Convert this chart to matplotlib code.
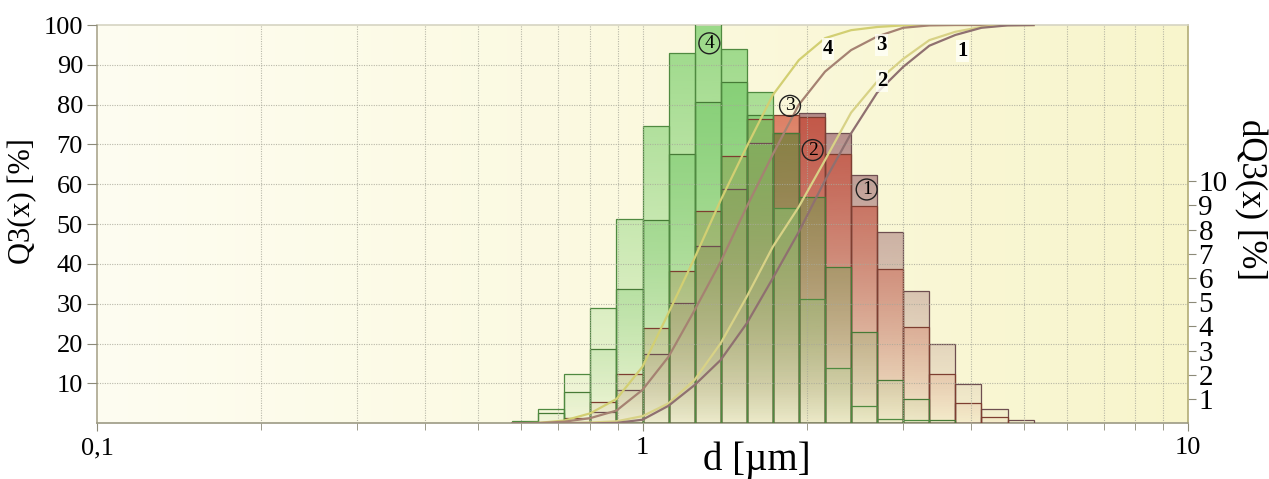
import numpy as np
import matplotlib
matplotlib.use('Agg')
import matplotlib.pyplot as plt
from matplotlib.path import Path
from matplotlib.patches import PathPatch
from matplotlib.ticker import FixedLocator, FixedFormatter, NullFormatter
from matplotlib.colors import to_rgb

plt.rcParams['font.family'] = ['Liberation Serif', 'DejaVu Serif']

# ---------------- data ----------------
bin_edges = [0.577, 0.644, 0.719, 0.802, 0.896, 1.0, 1.116, 1.246, 1.391, 1.553,
             1.733, 1.935, 2.161, 2.412, 2.692, 3.006, 3.356, 3.746, 4.181, 4.668, 5.212]

# dQ3 [%] per class (right axis)
dq3_s4 = [0.10, 0.61, 2.04, 4.75, 8.43, 12.28, 15.28, 17.00, 15.45, 13.69,
          8.91, 5.14, 2.27, 0.71, 0.16, 0.13, 0, 0, 0, 0]
dq3_s3 = [0.05, 0.41, 1.30, 3.06, 5.54, 8.40, 11.14, 13.28, 14.10, 12.74,
          11.98, 9.35, 6.46, 3.78, 1.79, 1.00, 0.13, 0, 0, 0]
dq3_s2 = [0, 0.05, 0.20, 0.87, 2.02, 3.93, 6.29, 8.78, 11.04, 12.57,
          12.74, 12.65, 11.14, 8.96, 6.39, 3.99, 2.04, 0.85, 0.25, 0]
dq3_s1 = [0, 0, 0.05, 0.48, 1.38, 2.88, 4.96, 7.33, 9.66, 11.57,
          11.98, 12.80, 11.98, 10.25, 7.90, 5.47, 3.27, 1.61, 0.59, 0.13]

# Q3 [%] at class edges (left axis)
q3_c4 = [0, 0.1, 0.7, 2.5, 6.1, 14.2, 27.7, 41.5, 56.0, 69.5, 82.4,
         91.2, 96.7, 98.7, 99.5, 99.9, 100, 100, 100, 100, 100]
q3_c3 = [0, 0.05, 0.4, 1.3, 3.2, 8.4, 16.7, 28.4, 40.6, 54.4, 67.5,
         80.0, 88.3, 93.7, 97.1, 99.3, 99.9, 100, 100, 100, 100]
q3_c2 = [0, 0, 0, 0.2, 0.5, 1.8, 5.0, 10.9, 20.1, 31.8, 44.3,
         54.4, 66.1, 78.0, 85.8, 91.5, 96.2, 98.3, 99.5, 100, 100]
q3_c1 = [0, 0, 0, 0, 0.1, 0.9, 4.4, 9.6, 15.9, 25.1, 36.4,
         48.1, 61.0, 72.8, 83.0, 89.5, 94.8, 97.5, 99.3, 99.9, 100]

x_major = [0.1, 1, 10]
x_major_labels = ['0,1', '1', '10']
x_minor = [0.2, 0.3, 0.4, 0.5, 0.6, 0.7, 0.8, 0.9, 2, 3, 4, 5, 6, 7, 8, 9]
q_ticks = [10, 20, 30, 40, 50, 60, 70, 80, 90, 100]
dq_ticks = [1, 2, 3, 4, 5, 6, 7, 8, 9, 10]

curve_labels = [('4', 2.19, 93.9), ('3', 2.74, 95.0), ('2', 2.75, 86.0), ('1', 3.86, 93.5)]
circle_labels = [('4', 1.326, 95.4), ('3', 1.864, 79.7), ('2', 2.051, 68.6), ('1', 2.576, 58.7)]

# ---------------- figure ----------------
W, H = 1269, 479
fig = plt.figure(figsize=(W / 100, H / 100), dpi=100)
L, R, T, B = 97, 1188, 25, 423.3
pos = [L / W, 1 - B / H, (R - L) / W, (B - T) / H]

# background gradient (cream -> light yellow)
bg = fig.add_axes(pos, zorder=-1)
g = np.linspace(0, 1, 256)
c_left = np.array(to_rgb('#fefdf1'))
c_right = np.array(to_rgb('#f8f5cc'))
img = c_left[None, None, :] * (1 - g[None, :, None]) + c_right[None, None, :] * g[None, :, None]
bg.imshow(img, aspect='auto', extent=(0, 1, 0, 1), interpolation='bilinear')
bg.set_axis_off()

ax = fig.add_axes(pos)
ax.patch.set_visible(False)
ax.set_xscale('log')

DQ_TOP = 16.45
# drawn coarse -> fine so the green series lie on top
series = [
    (dq3_s1, '#8c4c5c', '#6e4e50', 0.80),
    (dq3_s2, '#cc3a22', '#7e3e30', 0.80),
    (dq3_s3, '#3fae3c', '#467a36', 0.60),
    (dq3_s4, '#7fd070', '#4f8a40', 0.78),
]
N = 256
vv = np.linspace(0, 1, N)
for vals, col, ecol, amax in series:
    verts, codes = [], []
    for i, h in enumerate(vals):
        if h <= 0:
            continue
        x0, x1 = bin_edges[i], bin_edges[i + 1]
        verts += [(x0, 0), (x0, h), (x1, h), (x1, 0), (x0, 0)]
        codes += [Path.MOVETO, Path.LINETO, Path.LINETO, Path.LINETO, Path.CLOSEPOLY]
    path = Path(verts, codes)
    patch = PathPatch(path, facecolor='none', edgecolor=ecol, lw=0.9, zorder=3)
    ax.add_patch(patch)
    rgba = np.zeros((N, 1, 4))
    rgba[..., :3] = to_rgb(col)
    rgba[:, 0, 3] = 0.03 + (amax - 0.03) * vv ** 0.95
    im = ax.imshow(rgba, origin='lower', extent=(0.1, 10, 0, DQ_TOP), aspect='auto',
                   interpolation='bilinear', zorder=2)
    im.set_clip_path(patch)

ax.set_xlim(0.1, 10)
ax.set_ylim(0, DQ_TOP)

axQ = ax.twinx()
axQ.set_ylim(0, 100)
axQ.set_xlim(0.1, 10)

# grid
for xv in x_minor + [1]:
    axQ.axvline(xv, color='#a8a89a', lw=0.8, ls=(0, (1, 1.2)), zorder=1, alpha=0.8)
for qv in q_ticks[:-1]:
    axQ.axhline(qv, color='#a8a89a', lw=0.8, ls=(0, (1, 1.2)), zorder=1, alpha=0.8)

curves = [
    (q3_c4, '#d2cf72'),
    (q3_c3, '#a58272'),
    (q3_c2, '#d8d286'),
    (q3_c1, '#8f7070'),
]
for vals, col in curves:
    axQ.plot(bin_edges, vals, color=col, lw=1.6, zorder=2, solid_joinstyle='round')

for txt, xv, qv in curve_labels:
    axQ.text(xv, qv, txt, fontsize=15, fontweight='bold', ha='center', va='center', zorder=6,
             bbox=dict(boxstyle='square,pad=0.05', fc='#fffff8', ec='none', alpha=0.8))
for txt, xv, qv in circle_labels:
    axQ.text(xv, qv, txt, fontsize=14, ha='center', va='center', zorder=6,
             bbox=dict(boxstyle='circle,pad=0.1', fc='none', ec='#202020', lw=1.0))

# ticks / axes
ax.xaxis.set_major_locator(FixedLocator(x_major))
ax.xaxis.set_major_formatter(FixedFormatter(x_major_labels))
ax.xaxis.set_minor_locator(FixedLocator(x_minor))
ax.xaxis.set_minor_formatter(NullFormatter())
ax.tick_params(axis='x', which='major', labelsize=19, length=6, pad=4, color='#8c8a78', direction='out')
ax.tick_params(axis='x', which='minor', length=5, color='#8c8a78', direction='out')

ax.yaxis.tick_right()
ax.yaxis.set_major_locator(FixedLocator(dq_ticks))
ax.tick_params(axis='y', which='major', labelsize=21, length=6, pad=1.5, color='#8c8a78',
               right=True, left=False, labelright=True, labelleft=False)
ax.yaxis.set_minor_locator(FixedLocator([]))

axQ.yaxis.tick_left()
axQ.yaxis.set_major_locator(FixedLocator(q_ticks))
axQ.tick_params(axis='y', which='major', labelsize=19, length=7, pad=3, color='#8c8a78',
                left=True, right=False, labelleft=True, labelright=False)

for s in axQ.spines.values():
    s.set_visible(False)
ax.spines['left'].set_color('#aaa68e')
ax.spines['bottom'].set_color('#9c9a84')
ax.spines['right'].set_color('#b2ac76')
ax.spines['top'].set_color('#d6d4c2')
for s in ax.spines.values():
    s.set_linewidth(1.2)

fig.text(23 / W, 1 - 201 / H, 'Q3(x) [%]', fontsize=22, rotation=90, ha='center', va='center')
fig.text(1250 / W, 1 - 200 / H, 'dQ3(x) [%]', fontsize=25, rotation=-90, ha='center', va='center')
fig.text(757 / W, 1 - 470 / H, 'd [µm]', fontsize=28, ha='center', va='baseline')

fig.savefig('out.png', dpi=100)
